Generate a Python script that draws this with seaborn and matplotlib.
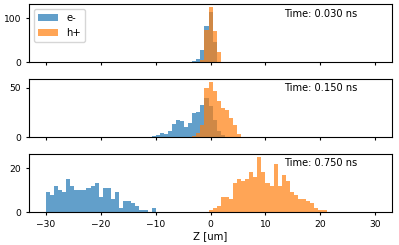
import numpy as np
import pandas as pd
import matplotlib
matplotlib.use("Agg")
import matplotlib.pyplot as plt
import seaborn as sns

# ---- data (counts per bin of a histogram, 81 bins over -30..30 um) ----
z_min, z_max, n_bins = -30.0, 30.0, 81
times = ["0.030", "0.150", "0.750"]
species = ["e-", "h+"]

# index of first listed bin (bin 40 is centred on z = 0) and counts
e_030_first = 36
e_030 = [2, 7, 28, 83, 115, 45]
h_030_first = 37
h_030 = [1, 5, 73, 125, 70, 23]

e_150_first = 26
e_150 = [1, 2, 4, 3, 6, 13, 18, 17, 10, 14, 25, 26, 33, 40, 32, 18, 6, 2]
h_150_first = 36
h_150 = [1, 4, 12, 50, 56, 47, 37, 30, 28, 20, 12, 3]

e_750_first = 0
e_750 = [9, 8, 12, 10, 9, 15, 12, 10, 10, 10, 11, 12, 13, 7, 11, 11, 6, 9,
         2, 5, 5, 4, 3, 1, 1, 0, 2]
h_750_first = 40
h_750 = [1, 2, 3, 7, 7, 6, 13, 15, 14, 15, 18, 16, 25, 18, 13, 12, 22, 12,
         17, 14, 9, 8, 6, 6, 5, 4, 2, 1, 1]

yticks = [[0, 100], [0, 50], [0, 20]]
xticks = [-30, -20, -10, 0, 10, 20, 30]

edges = np.histogram_bin_edges([], bins=n_bins, range=(z_min, z_max))
width = edges[1] - edges[0]


def frame(first, counts):
    idx = np.arange(first, first + len(counts))
    return pd.DataFrame({"z": edges[idx] + width / 2, "count": counts})


panels = [
    [(e_030_first, e_030), (h_030_first, h_030)],
    [(e_150_first, e_150), (h_150_first, h_150)],
    [(e_750_first, e_750), (h_750_first, h_750)],
]
colors = ["#1f77b4", "#ff7f0e"]

fig, axes = plt.subplots(3, 1, figsize=(3.99, 2.45), dpi=100, sharex=True)
fig.subplots_adjust(left=0.0735, right=0.982, bottom=0.134, top=0.982,
                    hspace=0.293)

for i, ax in enumerate(axes):
    for j, (first, counts) in enumerate(panels[i]):
        sns.histplot(data=frame(first, counts), x="z", weights="count",
                     bins=n_bins, binrange=(z_min, z_max), color=colors[j],
                     alpha=0.7, linewidth=0, ax=ax, label=species[j])
    ax.set_xlim(-33, 33)
    ax.set_yticks(yticks[i])
    ax.set_ylabel("")
    ax.set_xlabel("")
    ax.tick_params(labelsize=6.6, length=2.4, width=0.8)
    for s in ax.spines.values():
        s.set_linewidth(0.8)
    ax.text(0.704, 0.79, f"Time: {times[i]} ns", transform=ax.transAxes,
            fontsize=7.1)

axes[-1].set_xticks(xticks)
axes[-1].set_xlabel("Z [um]", fontsize=7.3, labelpad=1.5)
axes[0].legend(loc="upper left", fontsize=7.2)

fig.savefig("out.png", dpi=100)
